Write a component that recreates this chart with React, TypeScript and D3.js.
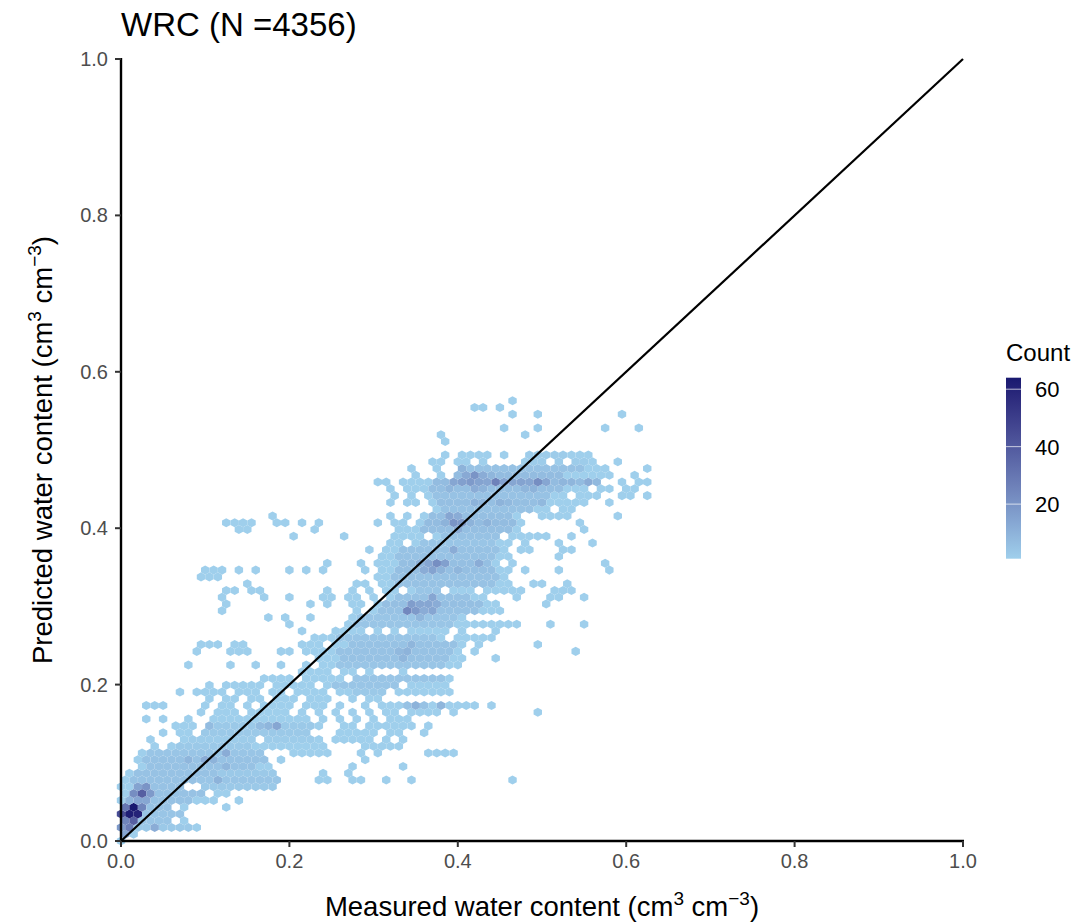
import React from "react";
import * as d3 from "d3";

const titleText = "WRC (N =4356)";
const axisTicks = [0, 0.2, 0.4, 0.6, 0.8, 1.0];
const legendTicks = [20, 40, 60];
const binWidth = 0.01;
const rowHeight = 0.00866;

// occupied hexagon columns per row: [row, columns or [from,to] runs]
const occupiedRows: [number, (number | [number, number])[]][] = [
  [0, [0]], [1, [0, 1]], [2, [[0, 9]]], [3, [[0, 5], 7]], [4, [[0, 7]]], [5, [[0, 5], 7, 12]],
  [6, [[0, 11], 14]], [7, [[0, 9], 11, 12]], [8, [[0, 7], [10, 18]]], [9, [[0, 18], 23, 24, 27, 28, 31, 34, 46]],
  [10, [[1, 18], 24, 27]], [11, [[2, 17], 27, 33]], [12, [[2, 17], 19, 29]], [13, [[2, 16], [20, 24], 28, 30, [36, 39]]],
  [14, [4, [6, 24], [29, 33]]], [15, [3, [7, 15], [17, 23], [25, 29], 31, 33]],
  [16, [5, 7, 8, [10, 22], [26, 30], 32, 33, 36]], [17, [6, 7, 8, [10, 23], 26, 27, [29, 34], 36]],
  [18, [3, 5, 8, [11, 22], 24, 26, 28, 30, [32, 34]]], [19, [9, [11, 13], [15, 19], 21, 23, 25, 27, 29, 31, 32, [34, 37], 39, 49]],
  [20, [3, 4, 5, 10, 12, 13, 15, [17, 20], [22, 24], 26, 29, [31, 42], 44]], [21, [10, 12, 13, 15, 16, [18, 20], [22, 24], 27, 29, 30]],
  [22, [7, [9, 12], [14, 16], 18, 19, [21, 24], 26, [27, 31], [33, 39]]], [23, [10, [12, 16], [18, 22], [24, 32], [34, 38]]],
  [24, [[17, 20], [22, 26], [28, 39]]], [25, [[21, 24], 26, 27, 29, 33]], [26, [8, 13, 16, 19, 22, [24, 40]]],
  [27, [[23, 40], 44]], [28, [9, 13, 14, 15, 19, 20, 22, 23, [24, 40], 42, 54]], [29, [9, 10, 11, 13, 14, 21, 22, 23, [25, 40], 42, 49]],
  [30, [23, [24, 38], 40, [41, 44]]], [31, [21, [25, 28], 30, 32, [34, 38], 40, 44]], [32, [20, [27, 47], 51, 55]],
  [33, [17, 19, 22, [27, 40]]], [34, [12, 28, [30, 45]]], [35, [12, 22, 24, 27, 28, [30, 44], 50]],
  [36, [12, 17, 20, 24, 25, 27, 28, 30, [32, 43], 47, 51, 52, 55]], [37, [12, 13, 15, 16, 24, 27, 29, 31, 32, [34, 37], [39, 41], [43, 47], 51, 52, 53]],
  [38, [15, 28, 29, [31, 46], 49, 50, 53]], [39, [9, 10, 11, [30, 45]]], [40, [10, 11, 12, 14, 16, 20, 22, 24, 29, [31, 46], 48, 52, 58]],
  [41, [24, 28, [30, 44], 46, 57]], [42, [[31, 46], 52]], [43, [29, [31, 45], 47, 48, 52, 53]], [44, [32, 33, [35, 46], 48, 52, 56]],
  [45, [20, 26, 32, [33, 35], [37, 44], 46, 47, [48, 50], 53]], [46, [14, 15, 23, 33, 34, [35, 47], 55]], [47, [12, 13, 14, 15, 18, 19, 21, 23, 30, 32, 33, [35, 47], 54]],
  [48, [18, 32, 34, [36, 47], [50, 53], 59]], [49, [[37, 50], 52, 53]], [50, [32, 34, 35, [37, 55], 58]],
  [51, [32, 34, [36, 52], [54, 56], 59, 60, 62]], [52, [32, [34, 55], 57, 58, 60, 61]], [53, [30, 31, [33, 56], 59, 61, 62]],
  [54, [35, 38, [40, 58], 61]], [55, [34, 37, [40, 57], 62]], [56, [37, 38, 40, 41, 43, 48, 49, 50, 52, 54, 55, 56, 59]],
  [57, [38, [40, 43], 45, [48, 55]]], [59, [38]], [60, [38, 48]], [61, [45, 49, 57, 61]], [63, [46, 49, 59]], [64, [42, 43, 45]], [65, [46]],
];

// estimated counts: [row, from, to, count], later entries win
const countRuns: [number, number, number, number][] = [
  [2, 2, 8, 3], [3, 2, 5, 4], [4, 3, 7, 4], [5, 3, 5, 5], [6, 4, 8, 5], [7, 4, 9, 5], [8, 4, 7, 5], [9, 1, 8, 5], [10, 2, 11, 5], [11, 3, 15, 5], [12, 3, 17, 5],
  [13, 3, 16, 4], [14, 7, 15, 3], [9, 9, 18, 4], [10, 12, 18, 3], [8, 10, 18, 3], [15, 8, 22, 2], [16, 10, 22, 3], [17, 10, 22, 3],
  [22, 28, 31, 3], [23, 25, 32, 4], [24, 28, 38, 4], [26, 26, 38, 4], [27, 26, 38, 5], [28, 26, 39, 5], [29, 27, 39, 5], [30, 26, 37, 4],
  [32, 28, 39, 4], [33, 28, 39, 4], [34, 31, 42, 5], [35, 31, 42, 6], [36, 33, 41, 5], [37, 35, 37, 4], [38, 33, 44, 5], [39, 32, 44, 5], [40, 33, 44, 6], [41, 33, 43, 6],
  [42, 33, 44, 5], [43, 33, 44, 5], [44, 36, 44, 4], [45, 38, 44, 5], [46, 36, 46, 6], [47, 36, 46, 7], [48, 37, 46, 6], [49, 38, 48, 5], [50, 38, 50, 6], [51, 37, 50, 5],
  [52, 37, 52, 6], [53, 37, 55, 7], [54, 40, 52, 7], [55, 40, 54, 5], [56, 49, 55, 2], [57, 48, 52, 2],
];

const hotCells: [number, number, number][] = [
  [5, 1, 64], [4, 1, 62], [4, 2, 60], [5, 0, 30], [5, 2, 25], [4, 0, 45], [3, 0, 25], [3, 1, 38], [2, 1, 28], [2, 0, 18], [2, 4, 12],
  [7, 2, 38], [7, 1, 22], [8, 3, 20], [8, 2, 15], [7, 3, 18], [6, 3, 14], [6, 2, 14], [6, 1, 10], [1, 0, 14],
  [12, 10, 12], [12, 8, 9], [13, 12, 12], [12, 11, 10], [11, 12, 9], [9, 11, 10], [17, 18, 14], [17, 17, 9], [17, 16, 7], [17, 10, 7],
  [34, 34, 24], [35, 34, 17], [34, 35, 18], [36, 37, 14], [34, 37, 14], [34, 36, 12], [35, 37, 12], [35, 35, 14], [35, 36, 14], [33, 35, 9],
  [41, 37, 22], [41, 38, 16], [41, 36, 14], [40, 37, 15], [41, 35, 10], [43, 39, 12], [41, 42, 12], [40, 40, 9], [40, 36, 12], [40, 38, 10],
  [47, 39, 20], [47, 40, 18], [48, 39, 14], [48, 40, 12], [47, 38, 10], [47, 41, 10], [47, 43, 10], [46, 40, 12],
  [53, 40, 16], [53, 39, 14], [53, 41, 18], [53, 42, 15], [53, 43, 14], [53, 44, 26], [53, 45, 15], [53, 46, 14], [53, 47, 15], [53, 48, 14], [53, 49, 22], [53, 50, 14], [53, 52, 9], [53, 53, 9], [53, 55, 12], [53, 56, 8],
  [54, 42, 20], [54, 41, 13], [54, 43, 12], [54, 44, 9], [55, 40, 10], [52, 42, 12], [52, 43, 10], [52, 39, 9], [52, 48, 9], [52, 49, 10], [50, 42, 10], [50, 43, 9], [50, 45, 10], [50, 46, 8], [50, 50, 8],
  [20, 35, 10], [20, 38, 9], [20, 34, 5], [20, 36, 5], [28, 33, 8], [29, 34, 9], [27, 33, 9], [28, 34, 10],
];

const colourLow = "#9FCFEC";
const colourHigh = "#191970";
const maxCount = 64;

function buildCells() {
  const map = new Map<string, { r: number; c: number; n: number }>();
  occupiedRows.forEach(([r, items]) => {
    items.forEach((it) => {
      const [a, b] = Array.isArray(it) ? it : [it, it];
      for (let c = a; c <= b; c++) map.set(r + ":" + c, { r, c, n: 1 });
    });
  });
  countRuns.forEach(([r, a, b, n]) => {
    for (let c = a; c <= b; c++) {
      const cell = map.get(r + ":" + c);
      if (cell) cell.n = n;
    }
  });
  hotCells.forEach(([r, c, n]) => {
    const cell = map.get(r + ":" + c);
    if (cell) cell.n = n;
  });
  return Array.from(map.values());
}

export default function App() {
  const x = d3.scaleLinear().domain([0, 1]).range([121, 963]);
  const y = d3.scaleLinear().domain([0, 1]).range([841, 59]);
  const fill = d3.scaleLinear<string>().domain([1, maxCount]).range([colourLow, colourHigh]).interpolate(d3.interpolateLab);
  const legendY = d3.scaleLinear().domain([1, maxCount]).range([558.7, 377.7]);
  const cells = buildCells();

  const rx = x(binWidth / 2) - x(0);
  const ry = y(0) - y(binWidth / Math.sqrt(3));
  const hexPath = (cx: number, cy: number) =>
    d3.line()([
      [cx, cy - ry], [cx + rx, cy - ry / 2], [cx + rx, cy + ry / 2],
      [cx, cy + ry], [cx - rx, cy + ry / 2], [cx - rx, cy - ry / 2],
    ])! + "Z";

  const legendStops = d3.range(0, 11).map((i) => 1 + ((maxCount - 1) * i) / 10);
  const font = "'Liberation Sans', Arial, sans-serif";

  return (
    <svg width={1081} height={924} style={{ position: "absolute", left: 0, top: 0, background: "#fff" }} fontFamily={font}>
      <defs>
        <linearGradient id="legendGrad" x1="0" y1="1" x2="0" y2="0">
          {legendStops.map((v, i) => (
            <stop key={i} offset={i / 10} stopColor={fill(v)} />
          ))}
        </linearGradient>
      </defs>

      <text x={121} y={36} fontSize={33} fill="#000">{titleText}</text>

      <g>
        {cells.map((d) => (
          <path
            key={d.r + ":" + d.c}
            d={hexPath(x((d.c + (d.r % 2 ? 0.5 : 0)) * binWidth), y(d.r * rowHeight))}
            fill={fill(d.n)}
          />
        ))}
      </g>

      <line x1={x(0)} y1={y(0)} x2={x(1)} y2={y(1)} stroke="#000" strokeWidth={2.2} />

      <line x1={121} y1={842} x2={121} y2={58} stroke="#000" strokeWidth={2.4} />
      <line x1={120} y1={841} x2={964} y2={841} stroke="#000" strokeWidth={2.4} />

      {axisTicks.map((t) => (
        <g key={"x" + t}>
          <line x1={x(t)} x2={x(t)} y1={841} y2={847} stroke="#333" strokeWidth={2} />
          <text x={x(t)} y={868} textAnchor="middle" fontSize={20} fill="#4D4D4D">{t.toFixed(1)}</text>
        </g>
      ))}
      {axisTicks.map((t) => (
        <g key={"y" + t}>
          <line x1={115} x2={121} y1={y(t)} y2={y(t)} stroke="#333" strokeWidth={2} />
          <text x={108} y={y(t) + 7} textAnchor="end" fontSize={20} fill="#4D4D4D">{t.toFixed(1)}</text>
        </g>
      ))}

      <text x={542} y={916} textAnchor="middle" fontSize={27.5} fill="#000">
        Measured water content (cm<tspan dy={-11} fontSize={19}>3</tspan><tspan dy={11}> cm</tspan><tspan dy={-11} fontSize={19}>−3</tspan><tspan dy={11}>)</tspan>
      </text>
      <text transform="translate(52,450) rotate(-90)" textAnchor="middle" fontSize={27.5} fill="#000">
        Predicted water content (cm<tspan dy={-11} fontSize={19}>3</tspan><tspan dy={11}> cm</tspan><tspan dy={-11} fontSize={19}>−3</tspan><tspan dy={11}>)</tspan>
      </text>

      <text x={1006} y={361} fontSize={24} fill="#000">Count</text>
      <rect x={1006} y={377.7} width={15} height={181} fill="url(#legendGrad)" />
      {legendTicks.map((t) => (
        <g key={"l" + t}>
          <line x1={1006} x2={1021} y1={legendY(t)} y2={legendY(t)} stroke="#fff" strokeWidth={1} opacity={0.7} />
          <text x={1035} y={legendY(t) + 8} fontSize={22} fill="#000">{t}</text>
        </g>
      ))}
    </svg>
  );
}
